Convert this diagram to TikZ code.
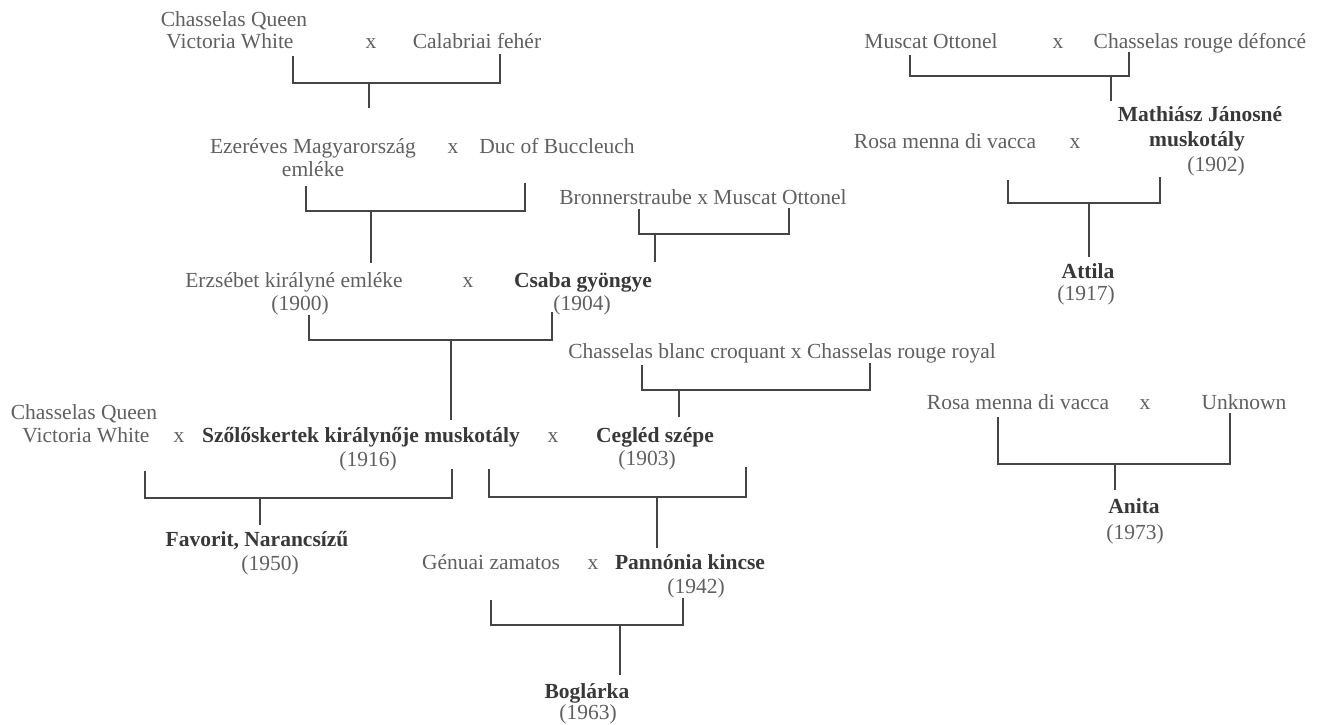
\documentclass[tikz,border=0pt]{standalone}
\usepackage{fontspec}
\setmainfont{Liberation Serif}
\definecolor{txt}{HTML}{606060}
\definecolor{btxt}{HTML}{383838}
\definecolor{ln}{HTML}{454545}
\begin{document}
\begin{tikzpicture}[x=1pt,y=-1pt,
  lbl/.style={anchor=base, inner sep=0pt, text=txt, font=\fontsize{21.5}{23.5}\selectfont},
  var/.style={anchor=base, inner sep=0pt, text=btxt, font=\fontsize{21.5}{23.5}\selectfont\bfseries},
  link/.style={draw=ln, line width=2.6pt, line cap=butt, line join=miter}]
\useasboundingbox[fill=white] (0,0) rectangle (1320,724);

% ---------- group A ----------
\node[lbl] (a1) at (234,26) {Chasselas Queen};
\node[lbl] (a1b) at (230,48) {Victoria White};
\node[lbl] (ax) at (371,48) {x};
\node[lbl] (a2) at (477,48) {Calabriai fehér};
\coordinate (Al) at (293,56); \coordinate (Ar) at (500,54);
\coordinate (Aj) at (369,83); \coordinate (As) at (369,108);
\draw[link] (Al) |- (Aj) -| (Ar);
\draw[link] (Aj) -- (As);

% ---------- group B ----------
\node[lbl] (b1) at (313,153) {Ezeréves Magyarország};
\node[lbl] (b1b) at (313,176) {emléke};
\node[lbl] (bx) at (453,153) {x};
\node[lbl] (b2) at (557,153) {Duc of Buccleuch};
\coordinate (Bl) at (306,186); \coordinate (Br) at (525,183);
\coordinate (Bj) at (371,211); \coordinate (Bs) at (371,263);
\draw[link] (Bl) |- (Bj) -| (Br);
\draw[link] (Bj) -- (Bs);

% ---------- group C ----------
\node[lbl] (c1) at (703,204) {Bronnerstraube x Muscat Ottonel};
\coordinate (Cl) at (639,209); \coordinate (Cr) at (789,208);
\coordinate (Cj) at (655,234); \coordinate (Cs) at (655,262);
\draw[link] (Cl) |- (Cj) -| (Cr);
\draw[link] (Cj) -- (Cs);

% ---------- group D ----------
\node[lbl] (d1) at (294,287) {Erzsébet királyné emléke};
\node[lbl] (d1y) at (300,310) {(1900)};
\node[lbl] (dx) at (468,287) {x};
\node[var] (d2) at (583,287) {Csaba gyöngye};
\node[lbl] (d2y) at (582,310) {(1904)};
\coordinate (Dl) at (309,315); \coordinate (Dr) at (552,312);
\coordinate (Dj) at (451,340); \coordinate (Ds) at (451,420);
\draw[link] (Dl) |- (Dj) -| (Dr);
\draw[link] (Dj) -- (Ds);

% ---------- group E ----------
\node[lbl] (e1) at (782,358) {Chasselas blanc croquant x Chasselas rouge royal};
\coordinate (El) at (642,365); \coordinate (Er) at (870,363);
\coordinate (Ej) at (679,390); \coordinate (Es) at (679,417);
\draw[link] (El) |- (Ej) -| (Er);
\draw[link] (Ej) -- (Es);

% ---------- row Szolos ----------
\node[lbl] (f1) at (84,419) {Chasselas Queen};
\node[lbl] (f1b) at (86,442) {Victoria White};
\node[lbl] (fx) at (179,442) {x};
\node[var] (f2) at (361,442) {Szőlőskertek királynője muskotály};
\node[lbl] (f2y) at (368,466) {(1916)};
\node[lbl] (gx) at (553,442) {x};
\node[var] (g2) at (655,442) {Cegléd szépe};
\node[lbl] (g2y) at (647,465) {(1903)};

\coordinate (Fl) at (145,471); \coordinate (Fr) at (452,469);
\coordinate (Fj) at (260,498); \coordinate (Fs) at (260,525);
\draw[link] (Fl) |- (Fj) -| (Fr);
\draw[link] (Fj) -- (Fs);

\coordinate (Gl) at (489,469); \coordinate (Gr) at (746,467);
\coordinate (Gj) at (657,497); \coordinate (Gs) at (657,548);
\draw[link] (Gl) |- (Gj) -| (Gr);
\draw[link] (Gj) -- (Gs);

\node[var] (fav) at (257,546) {Favorit, Narancsízű};
\node[lbl] (favy) at (270,570) {(1950)};

\node[lbl] (h1) at (491,569) {Génuai zamatos};
\node[lbl] (hx) at (593,569) {x};
\node[var] (pan) at (690,569) {Pannónia kincse};
\node[lbl] (pany) at (696,593) {(1942)};
\coordinate (Hl) at (491,600); \coordinate (Hr) at (683,598);
\coordinate (Hj) at (620,625); \coordinate (Hs) at (620,675);
\draw[link] (Hl) |- (Hj) -| (Hr);
\draw[link] (Hj) -- (Hs);
\node[var] (bog) at (587,698) {Boglárka};
\node[lbl] (bogy) at (588,719) {(1963)};

% ---------- right: Mathiasz ----------
\node[lbl] (m1) at (931,48) {Muscat Ottonel};
\node[lbl] (mx) at (1058,48) {x};
\node[lbl] (m2) at (1200,48) {Chasselas rouge défoncé};
\coordinate (Ml) at (910,55); \coordinate (Mr) at (1129,52);
\coordinate (Mj) at (1111,76); \coordinate (Ms) at (1111,101);
\draw[link] (Ml) |- (Mj) -| (Mr);
\draw[link] (Mj) -- (Ms);

\node[var] (mj1) at (1200,121) {Mathiász Jánosné};
\node[var] (mj1b) at (1197,146) {muskotály};
\node[lbl] (mj1y) at (1216,171) {(1902)};
\node[lbl] (r1) at (945,148) {Rosa menna di vacca};
\node[lbl] (rx) at (1075,148) {x};
\coordinate (Rl) at (1008,180); \coordinate (Rr) at (1160,177);
\coordinate (Rj) at (1089,203); \coordinate (Rs) at (1089,257);
\draw[link] (Rl) |- (Rj) -| (Rr);
\draw[link] (Rj) -- (Rs);
\node[var] (att) at (1088,278) {Attila};
\node[lbl] (atty) at (1086,300) {(1917)};

% ---------- right: Anita ----------
\node[lbl] (n1) at (1018,409) {Rosa menna di vacca};
\node[lbl] (nx) at (1145,409) {x};
\node[lbl] (n2) at (1244,409) {Unknown};
\coordinate (Nl) at (998,417); \coordinate (Nr) at (1230,413);
\coordinate (Nj) at (1115,464); \coordinate (Ns) at (1115,490);
\draw[link] (Nl) |- (Nj) -| (Nr);
\draw[link] (Nj) -- (Ns);
\node[var] (ani) at (1134,513) {Anita};
\node[lbl] (aniy) at (1135,539) {(1973)};
\end{tikzpicture}
\end{document}
